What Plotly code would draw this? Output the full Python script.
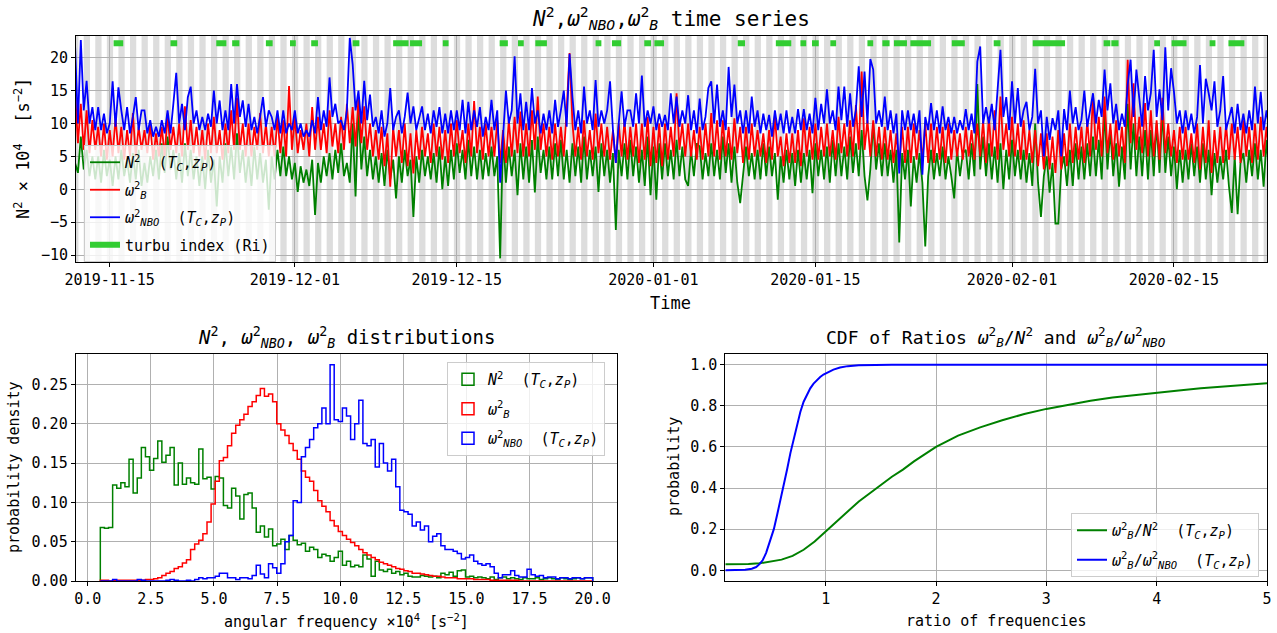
import numpy as np
import pandas as pd
import plotly.graph_objects as go

W, H = 1277, 633
FONT = "DejaVu Sans Mono"

# ---------------- time series (6-hourly samples from 2019-11-12 00:00) ----------------
n2 = [
    4, 2.5, 8, 3, 6, 2, 5, 1.5, 5, 1, 6, 2, 4.5, 0.5, 5, 1.5,
    6, 2, 4.5, 1, 5.5, 1.5, 6, 0.5, 4, 1, 5, 2, 6, 1.5, 7, 2.5,
    8, 3, 6, 1.5, 5.5, 1, 7, 2, 6, 1.5, 5, 0.5, 5, 0, 6, 1,
    4.5, -2.6, 5, 1, 7, 2, 6.5, 1.5, 8.5, 2.5, 6, 1, 5, 0.5, 6.5, 1.5,
    5.5, 1, 4.5, -3.1, 5, 1.5, 6, 2, 6.5, 2, 5, 1.5, 4, -0.4, 3.5, 1,
    3, 0.5, 4.5, -3.9, 4, 1, 5, 2, 5.5, 1.5, 6, 2.5, 7, 2, 4, 1,
    10, -1.1, 12.6, 3, 8, 2, 6, 1.5, 5, 1, 5.5, 0.5, 6, 1.5, 4.5, -1.4,
    5, 1, 6, 2, 4.5, -4.2, 5, 1, 6, 2, 5, 1.5, 5.5, 1, 6.5, 0,
    5, 0.5, 6, 1.5, 7, 2.5, 6, 1.5, 7.5, 2, 6.5, 1.5, 6, 1.5, 5.5, 2,
    6.5, 2, 5, -10.5, 8, 1, 6.5, 2, 6, -0.9, 7, 1.5, 6.5, 1, 7.5, -0.5,
    8, 2.5, 6, 1.5, 6.5, 1.5, 7, 2, 7.5, 1.5, 6, 1, 7, 2, 6.5, 1,
    8, 1.5, 6, 2, 6.5, -0.4, 7, 2, 6, 1, 5.5, -6.2, 6, 2, 7, 1.5,
    7.5, 2, 6.5, 1, 6, 0.5, 8, -0.9, 6.5, -1.6, 7, 1.5, 7, 2, 6, 1.5,
    7.5, 2, 6.5, 1.5, 0.5, 6, 2, 7, 6.5, 1.5, 5.5, 2, 7, 2, 6, 1.5,
    8, 2.5, 7, 1, 6.5, 1, -2.1, 2, 6.5, 2, 5.5, 1.5, 6, 1.5, 7, 2,
    6.5, 2, 5.5, -1.6, 5, 1, 6, 1.5, 5.5, 0.5, 6, 1, 5.5, 1.5, 6, -0.6,
    7, 2, 6, 1.5, 6.5, 1, 7.5, 2, 7, 2, 6.5, 1.5, 8, 2.5, 7, 2,
    9, 2, -1.7, 3, 10, 3, 7, 2, 7, 2, 6, 1, 6, -8.1, 5.5, 1.5,
    6, -2.6, 5, 1, 5.5, 1, -8.7, 2, 6, 1.5, 5.5, 2, 6.5, 1.5, 5, 2,
    -1.4, 6, 2, 5.5, 6, 1.5, 7, 2, 16, 3, 8, 2, 7, 1.5, 6.5, 1,
    7, 0, 6, 1.5, 7.5, 2, 6, 1.5, 6, 1, 5.5, 0.5, 10, 1, -4.2, 2,
    5, -0.5, 4, -5.2, -5.2, 3, 5, 0.5, 6, 0.5, 7, 1.5, 6.5, 1.5, 7, 2,
    8, 2, 7.5, 1.5, 12, 3, 9, 2, 7, 0.4, 6.5, 1.5, 13, 3, 10, 2,
    8, 2, 9, 1.5, 9, 2, 10, 2.5, 12, 2.5, 8, 2, 6.5, 0, 6, 1,
    6, 1.5, 7, 2, 6.5, 1, 7, 1.5, 6, -0.9, 5.5, 1, 5, 1.5, 6, 0.5,
    -3.6, 5, -3.8, 4, 5.5, 1, 6, 2, 7, 1.5, 6, 0.4, 7.5, 2, 6.5, 2,
]

omega_b = [
    15, 7, 13, 6, 12, 5.5, 10.5, 6, 9.5, 5, 10, 4.5, 9, 5, 11, 5.5,
    9.5, 4.5, 9, 5, 11.6, 5, 9.5, 6, 9, 5.5, 10, 4.5, 8.5, 5, 9.5, 5,
    11.5, 6, 9.5, 5.5, 10, 5, 12.6, 6, 10.5, 5.5, 9.5, 5, 9, 4.5, 10, 5.5,
    11, 5.5, 9, 4.5, 10, 5.5, 12, 6, 13.9, 6, 10, 5, 10, 5, 9.5, 6,
    11.6, 5.5, 10, 5, 9.5, 5, 11, 5.5, 10.5, 5, 15.7, 6, 11, 5.5, 9, 6,
    10, 5, 12.5, 6, 11, 6, 10, 5.5, 12, 6.5, 10, 5.5, 11, 6, 13, 7,
    12.5, 6.5, 14, 7, 12.6, 6, 10, 5, 9, 4.5, 9.5, 3.5, 8.5, 0.4, 9.5, 5,
    9, 4, 10, 3.5, 8.5, 2.4, 9, 4.5, 9.5, 5, 8.5, 4, 10, 5, 9.5, 4.5,
    9, 4, 10, 5, 10.5, 5.5, 9, 4, 10, 5, 13.4, 5.5, 9.5, 4.5, 10, 5,
    9.5, 5, 10.5, 4, 9, 4, 10.6, 5, 11, 5.5, 11.8, 5, 10, 5, 12, 6,
    14.1, 6, 10, 5, 9.5, 4.5, 10, 5, 9.5, 5, 12.1, 20.7, 10, 5, 9.5, 4.5,
    10.5, 5, 9, 4.5, 11.5, 5.5, 10, 5, 9.5, 4.5, 9, 4, 10, 5, 10.5, 4.5,
    9.5, 5, 10, 4, 10, 4.5, 11, 3.5, 9.5, 4, 10, 3.5, 10, 4.5, 9.5, 5,
    14.6, 6, 10, 5, 10, 5, 9, 4.5, 9.5, 4.5, 10, 5, 11.6, 5, 10.5, 4.5,
    10.5, 5, 9.5, 4.5, 10.8, 5.5, 9.5, 4, 9.5, 4.5, 10, 5, 9, 5, 8.5, 4,
    9, 4.5, 11.3, 5, 8, 3.5, 8.5, 4, 8.5, 4, 9, 3.5, 10.8, 5, 9.5, 4.5,
    10, 4.5, 9.5, 5, 10, 5, 9, 4.5, 11, 5.5, 10, 5, 10.5, 5, 12.8, 6,
    17.9, 6, 10.5, 5, 10.5, 5, 9.5, 4.5, 9.5, 4.5, 9, 4, 8.5, 3.5, 9.5, 4,
    9.5, 4, 10, 4.5, 9, 4.5, 10, 4, 10, 4, 9.5, 4.5, 9.5, 4, 10, 4.5,
    9, 5, 8.5, 4.5, 9.5, 5, 9, 4.5, 10, 5, 10.5, 4, 11, 5, 12, 4.5,
    14.1, 6, 10, 5, 11, 5, 10, 4.5, 10.5, 4.5, 9, 4, 9, 3.5, 8.5, 3,
    8.5, 3, 8, 2.5, 9, 3, 8.5, 3.5, 10, 4, 9.5, 4.5, 9.5, 4, 10.5, 5,
    14.4, 6, 11, 5, 14.1, 5.5, 10, 4.5, 10.5, 5, 9.5, 4, 19.7, 7, 16.1, 6,
    11, 5.5, 13.1, 5, 12, 5, 10.5, 4.5, 13.9, 5.5, 10, 5, 9, 4, 9.5, 4.5,
    9.5, 4.5, 8.5, 4, 10, 3, 9.5, 4, 10.5, 2.5, 9, 4, 9.5, 4, 10, 4.5,
    10, 4.5, 9.5, 4, 10.5, 5, 9.5, 4, 10, 4.5, 11, 5, 9.5, 5, 10.5, 6,
]

omega_nbo = [
    22, 10, 22.7, 12, 16.5, 10, 12.5, 9, 12.5, 9, 11.5, 8.5, 10, 16.4, 9.5, 15.5,
    12, 9, 12.5, 8.5, 11, 14, 9, 12, 12, 8.5, 10.5, 8, 9.5, 8, 10.5, 8.5,
    12, 8.5, 13, 17.7, 10, 13, 9, 14, 15.6, 10, 12, 9, 11, 9, 11.5, 9.5,
    15, 10, 13.5, 9, 12, 9, 16, 10, 16, 11, 13.5, 9.5, 13, 9, 11, 8.5,
    11, 14, 9.5, 12, 11, 9, 12, 8.5, 12, 8.5, 10, 9, 12, 8.5, 10, 8,
    9, 8, 10.5, 8.5, 14, 9, 12, 9.5, 17, 11, 13, 10, 10.5, 9, 12, 23,
    19, 12, 15, 10, 16.5, 10.5, 14.4, 9.5, 11, 8.5, 12, 8, 10, 15.4, 9, 11,
    12, 8.5, 11, 14.7, 10, 12.6, 9, 11, 12.6, 9, 11.5, 8.5, 12, 9.5, 12.5, 8.5,
    11.5, 8.5, 12, 9, 12, 9, 13.6, 8.5, 13.3, 9, 12, 9.5, 12.5, 8, 11, 9,
    13.6, 9, 12, 1.0, 9, 15, 10, 12, 20.2, 10, 14.6, 9, 13.3, 9, 15.4, 10,
    12, 8.5, 11.5, 9, 12, 8.5, 13.6, 9.5, 12, 15, 9.5, 20.6, 14, 9, 12, 8.5,
    15.6, 10, 12, 9, 16.6, 9.5, 12, 10, 12, 16.4, 9, 4.0, 10, 14.9, 9.5, 12,
    12, 9.5, 14.6, 10, 17.3, 9.5, 12, 10, 12.6, 9, 11.5, 9.5, 11.3, 9, 14.6, 10,
    14.1, 9.5, 12, 10, 14.3, 9, 12, 8.5, 13.8, 9, 11, 15.4, 16.4, 10, 15.9, 9.5,
    12, 9, 18.6, 11, 15.9, 10, 12, 8.5, 12, 8.5, 14.1, 9.5, 12, 8.5, 11.5, 9,
    11.3, 8, 12, 9, 11.5, 8.5, 12, 8.5, 11, 8.5, 12.2, 9, 12.2, 9, 11.5, 8.5,
    13.9, 9, 13, 10, 15.2, 10, 12, 9, 15.6, 10.5, 15.6, 9.5, 14.6, 9.5, 12, 18.7,
    11, 17.9, 10, 19.8, 18.2, 10, 12, 9.5, 14.1, 9, 12, 8.5, 11.5, 2.4, 12, 9,
    12, 9, 11.5, 8.5, 12, 2.2, 11, 9, 13.1, 9, 12, 8.5, 12.6, 9, 11, 8.5,
    11, 8.5, 10.5, 9, 12.2, 9, 11.5, 8.5, 19.4, 21.7, 10, 12.5, 10, 13, 9, 14.6,
    21.2, 11, 14, 9, 16.4, 10, 15.4, 9.5, 12, 13.3, 9, 11, 18.3, 10, 12, 5,
    11, 7.5, 10.8, 9, 12, 5, 12.2, 9, 15, 10, 12.5, 9, 10.5, 15, 9.5, 12,
    14.6, 10, 13.6, 11, 18.2, 12, 16.1, 10, 13, 9, 11.5, 9.5, 15.9, 19.7, 11, 18.2,
    14, 9.5, 17.2, 12, 14.6, 21.2, 11, 15.2, 10.5, 21.6, 12, 18.4, 14.8, 10, 12, 8.5,
    12, 9, 11.5, 8.5, 11, 18.9, 10, 16.8, 14.6, 12, 16.4, 9.5, 12, 17.2, 9, 11,
    12.5, 8.5, 13, 9, 11.5, 8.5, 12, 9, 15.6, 10, 14.8, 9, 12, 9, 11, 9.5,
]

t_start = "2019-11-12 00:00"
t_step = "6h"

turbu_start = [
    "2019-11-15 08:00", "2019-11-20 06:00", "2019-11-24 05:00", "2019-11-25 14:00",
    "2019-11-28 12:00", "2019-11-30 14:00", "2019-12-02 10:00", "2019-12-06 00:00",
    "2019-12-09 12:00", "2019-12-10 23:00", "2019-12-13 19:00", "2019-12-18 17:00",
    "2019-12-20 07:00", "2019-12-21 19:00", "2019-12-27 00:00", "2019-12-28 10:00",
    "2019-12-31 05:00", "2020-01-01 02:00", "2020-01-08 07:00", "2020-01-11 14:00",
    "2020-01-13 17:00", "2020-01-14 17:00", "2020-01-16 07:00", "2020-01-19 12:00",
    "2020-01-20 19:00", "2020-01-21 19:00", "2020-01-23 05:00", "2020-01-26 19:00",
    "2020-01-30 10:00", "2020-02-02 19:00", "2020-02-08 22:00", "2020-02-09 14:00",
    "2020-02-13 07:00", "2020-02-14 19:00", "2020-02-18 02:00", "2020-02-19 17:00",
]
turbu_end = [
    "2019-11-16 04:00", "2019-11-20 20:00", "2019-11-25 02:00", "2019-11-26 05:00",
    "2019-11-29 02:00", "2019-12-01 02:00", "2019-12-03 00:00", "2019-12-06 14:00",
    "2019-12-10 20:00", "2019-12-12 00:00", "2019-12-14 07:00", "2019-12-19 10:00",
    "2019-12-20 19:00", "2019-12-22 19:00", "2019-12-27 12:00", "2019-12-29 05:00",
    "2019-12-31 19:00", "2020-01-01 22:00", "2020-01-08 22:00", "2020-01-12 22:00",
    "2020-01-14 05:00", "2020-01-15 07:00", "2020-01-16 19:00", "2020-01-20 00:00",
    "2020-01-21 10:00", "2020-01-22 22:00", "2020-01-25 00:00", "2020-01-27 22:00",
    "2020-01-31 00:00", "2020-02-05 14:00", "2020-02-09 12:00", "2020-02-10 05:00",
    "2020-02-13 19:00", "2020-02-16 02:00", "2020-02-18 14:00", "2020-02-21 02:00",
]
turbu_level = 22.2

night_start_hour = 18
night_hours = 13

date_ticks = ["2019-11-15", "2019-12-01", "2019-12-15", "2020-01-01",
              "2020-01-15", "2020-02-01", "2020-02-15"]

# ---------------- histograms (density, 120 bins on [0.5, 20]) ----------------
hist_lo, hist_hi, hist_nbins = 0.5, 20.0, 120
hist_n2 = [
    0.068, 0.067, 0.068, 0.122, 0.118, 0.125, 0.120, 0.155, 0.112, 0.131,
    0.170, 0.158, 0.141, 0.156, 0.178, 0.151, 0.160, 0.170, 0.122, 0.150,
    0.123, 0.131, 0.125, 0.123, 0.168, 0.130, 0.132, 0.117, 0.133, 0.131,
    0.096, 0.093, 0.118, 0.108, 0.079, 0.110, 0.112, 0.093, 0.062, 0.070,
    0.056, 0.066, 0.045, 0.047, 0.053, 0.040, 0.058, 0.052, 0.046, 0.048,
    0.038, 0.043, 0.040, 0.030, 0.034, 0.032, 0.025, 0.030, 0.038, 0.020,
    0.025, 0.018, 0.020, 0.018, 0.033, 0.028, 0.006, 0.025, 0.014, 0.012,
    0.015, 0.010, 0.012, 0.008, 0.010, 0.006, 0.005, 0.005, 0.007, 0.006,
    0.005, 0.006, 0.004, 0.010, 0.008, 0.011, 0.006, 0.013, 0.014, 0.005,
    0.006, 0.004, 0.005, 0.004, 0.003, 0.005, 0.002, 0.004, 0.005, 0.003,
    0.004, 0.003, 0.002, 0.004, 0.003, 0.003, 0.004, 0.002, 0.003, 0.004,
    0.003, 0.002, 0.004, 0.003, 0.002, 0.003, 0.004, 0.003, 0.004, 0.004,
]
hist_wb = [
    0.001, 0.001, 0.000, 0.001, 0.001, 0.001, 0.001, 0.001, 0.001, 0.001,
    0.001, 0.002, 0.002, 0.003, 0.004, 0.007, 0.010, 0.012, 0.016, 0.018,
    0.023, 0.027, 0.040, 0.047, 0.052, 0.060, 0.075, 0.098, 0.127, 0.153,
    0.157, 0.172, 0.188, 0.198, 0.205, 0.212, 0.222, 0.228, 0.236, 0.245,
    0.235, 0.238, 0.228, 0.200, 0.192, 0.185, 0.175, 0.166, 0.155, 0.140,
    0.132, 0.127, 0.115, 0.102, 0.095, 0.088, 0.077, 0.070, 0.063, 0.058,
    0.053, 0.049, 0.045, 0.040, 0.036, 0.033, 0.030, 0.027, 0.024, 0.022,
    0.020, 0.018, 0.016, 0.015, 0.013, 0.012, 0.010, 0.010, 0.009, 0.008,
    0.007, 0.006, 0.006, 0.005, 0.004, 0.004, 0.004, 0.003, 0.003, 0.003,
    0.003, 0.002, 0.002, 0.002, 0.002, 0.001, 0.001, 0.001, 0.001, 0.001,
    0.001, 0.001, 0.000, 0.000, 0.000, 0.000, 0.000, 0.000, 0.000, 0.000,
    0.000, 0.000, 0.000, 0.000, 0.000, 0.000, 0.000, 0.000, 0.000, 0.000,
]
hist_nbo = [
    0.000, 0.000, 0.000, 0.002, 0.000, 0.000, 0.000, 0.000, 0.000, 0.002,
    0.001, 0.000, 0.000, 0.000, 0.000, 0.000, 0.001, 0.002, 0.001, 0.000,
    0.000, 0.001, 0.000, 0.002, 0.004, 0.003, 0.004, 0.004, 0.006, 0.010,
    0.010, 0.004, 0.004, 0.002, 0.004, 0.004, 0.003, 0.007, 0.020, 0.009,
    0.004, 0.022, 0.017, 0.010, 0.022, 0.050, 0.058, 0.102, 0.100, 0.158,
    0.170, 0.180, 0.195, 0.200, 0.220, 0.200, 0.275, 0.205, 0.203, 0.220,
    0.210, 0.180, 0.200, 0.230, 0.175, 0.172, 0.180, 0.145, 0.175, 0.150,
    0.140, 0.155, 0.120, 0.090, 0.088, 0.085, 0.070, 0.075, 0.065, 0.070,
    0.050, 0.057, 0.060, 0.045, 0.040, 0.040, 0.038, 0.035, 0.028, 0.030,
    0.033, 0.025, 0.022, 0.020, 0.022, 0.018, 0.010, 0.004, 0.008, 0.008,
    0.013, 0.007, 0.005, 0.005, 0.015, 0.008, 0.006, 0.007, 0.004, 0.005,
    0.005, 0.003, 0.004, 0.004, 0.003, 0.004, 0.004, 0.003, 0.004, 0.004,
]

# ---------------- CDFs of ratios ----------------
cdf_n2_x = [0.09, 0.2, 0.3, 0.4, 0.5, 0.6, 0.7, 0.8, 0.9, 1.0, 1.1, 1.2, 1.3, 1.4, 1.5,
            1.6, 1.7, 1.8, 1.9, 2.0, 2.2, 2.4, 2.6, 2.8, 3.0, 3.2, 3.4, 3.6, 3.8, 4.0,
            4.2, 4.4, 4.6, 4.8, 5.0]
cdf_n2_y = [0.030, 0.030, 0.031, 0.034, 0.042, 0.052, 0.070, 0.100, 0.140, 0.190, 0.240,
            0.290, 0.335, 0.375, 0.415, 0.455, 0.490, 0.530, 0.565, 0.600, 0.655, 0.695,
            0.730, 0.760, 0.785, 0.805, 0.825, 0.840, 0.852, 0.865, 0.875, 0.885, 0.893,
            0.902, 0.910]
cdf_nbo_x = [0.09, 0.2, 0.27, 0.33, 0.37, 0.40, 0.43, 0.46, 0.50, 0.53, 0.56, 0.59, 0.62,
             0.65, 0.68, 0.71, 0.74, 0.77, 0.80, 0.83, 0.86, 0.89, 0.92, 0.95, 0.98, 1.02,
             1.07, 1.13, 1.2, 1.3, 1.45, 1.6, 2.0, 5.0]
cdf_nbo_y = [0.0, 0.001, 0.003, 0.008, 0.016, 0.03, 0.05, 0.085, 0.15, 0.20, 0.27, 0.34,
             0.41, 0.49, 0.57, 0.64, 0.71, 0.77, 0.82, 0.857, 0.885, 0.908, 0.926, 0.940,
             0.952, 0.964, 0.976, 0.986, 0.993, 0.997, 0.999, 1.0, 1.0, 1.0]

# ---------------- figure ----------------
GREEN, RED, BLUE, LIME = "#008000", "#ff0000", "#0000ff", "#32cd32"
t = pd.date_range(t_start, periods=len(n2), freq=t_step)

fig = go.Figure()

lab_n2 = "<i>N</i><sup>2</sup>  (<i>T</i><sub><i>C</i></sub>,<i>z</i><sub><i>P</i></sub>)"
lab_wb = "<i>ω</i><sup>2</sup><sub><i>B</i></sub>"
lab_nbo = "<i>ω</i><sup>2</sup><sub><i>NBO</i></sub>  (<i>T</i><sub><i>C</i></sub>,<i>z</i><sub><i>P</i></sub>)"

LW = 1.8
fig.add_trace(go.Scatter(x=t, y=n2, mode="lines", line=dict(color=GREEN, width=LW),
                         name=lab_n2, xaxis="x", yaxis="y", legend="legend", legendgroup="a"))
fig.add_trace(go.Scatter(x=t, y=omega_b, mode="lines", line=dict(color=RED, width=LW),
                         name=lab_wb, xaxis="x", yaxis="y", legend="legend", legendgroup="b"))
fig.add_trace(go.Scatter(x=t, y=omega_nbo, mode="lines", line=dict(color=BLUE, width=LW),
                         name=lab_nbo, xaxis="x", yaxis="y", legend="legend", legendgroup="c"))
tx, ty = [], []
for s, e in zip(turbu_start, turbu_end):
    tx += [pd.Timestamp(s), pd.Timestamp(e), None]
    ty += [turbu_level, turbu_level, None]
fig.add_trace(go.Scatter(x=tx, y=ty, mode="lines", line=dict(color=LIME, width=6),
                         name="turbu index (Ri)", xaxis="x", yaxis="y", legend="legend",
                         legendgroup="d"))

# histograms as step outlines; legend entries as outlined patches
edges = np.linspace(hist_lo, hist_hi, hist_nbins + 1)
for k, (vals, col, lab) in enumerate([(hist_n2, GREEN, lab_n2), (hist_wb, RED, lab_wb),
                                      (hist_nbo, BLUE, lab_nbo)]):
    hx = [edges[0]] + list(edges[:-1]) + [edges[-1]]
    hy = [0] + list(vals) + [0]
    fig.add_trace(go.Scatter(x=hx, y=hy, mode="lines", line=dict(color=col, width=1.5, shape="hv"),
                             showlegend=False, xaxis="x2", yaxis="y2", legendgroup="h%d" % k))
    fig.add_trace(go.Bar(x=[None], y=[None], name=lab, xaxis="x2", yaxis="y2",
                         marker=dict(color="rgba(255,255,255,0)", line=dict(color=col, width=1.5)),
                         legend="legend2", legendgroup="h%d" % k, showlegend=True))

# CDFs
fig.add_trace(go.Scatter(x=cdf_n2_x, y=cdf_n2_y, mode="lines", line=dict(color=GREEN, width=2),
                         name="<i>ω</i><sup>2</sup><sub><i>B</i></sub>/<i>N</i><sup>2</sup>  (<i>T</i><sub><i>C</i></sub>,<i>z</i><sub><i>P</i></sub>)",
                         xaxis="x3", yaxis="y3", legend="legend3", legendgroup="c1"))
fig.add_trace(go.Scatter(x=cdf_nbo_x, y=cdf_nbo_y, mode="lines", line=dict(color=BLUE, width=2),
                         name="<i>ω</i><sup>2</sup><sub><i>B</i></sub>/<i>ω</i><sup>2</sup><sub><i>NBO</i></sub>  (<i>T</i><sub><i>C</i></sub>,<i>z</i><sub><i>P</i></sub>)",
                         xaxis="x3", yaxis="y3", legend="legend3", legendgroup="c2"))

# night shading
shapes = []
for day in pd.date_range("2019-11-11", "2020-02-23", freq="D"):
    s = day + pd.Timedelta(hours=night_start_hour)
    e = s + pd.Timedelta(hours=night_hours)
    shapes.append(dict(type="rect", xref="x", yref="y domain", x0=s, x1=e, y0=0, y1=1,
                       fillcolor="#dddddd", line=dict(width=0), layer="below"))

def px(v):
    return v / W

def py(v):
    return 1 - v / H

axis_common = dict(showline=True, linecolor="black", linewidth=1, mirror=True,
                   ticks="outside", ticklen=4, tickcolor="black", tickwidth=1,
                   showgrid=True, gridcolor="#b0b0b0", gridwidth=1, zeroline=False,
                   automargin=False,
                   tickfont=dict(family=FONT, size=15, color="black"))

fig.update_layout(
    template="none",
    width=W, height=H, autosize=False,
    margin=dict(l=0, r=0, t=0, b=0, pad=0),
    paper_bgcolor="white", plot_bgcolor="white",
    font=dict(family=FONT, size=15, color="black"),
    shapes=shapes,
    xaxis=dict(domain=[px(76), px(1267)], anchor="y", type="date",
               range=["2019-11-12 02:00", "2020-02-23 01:00"],
               tickvals=date_ticks, ticktext=date_ticks, **axis_common),
    yaxis=dict(domain=[py(262.3), py(36)], anchor="x", range=[-11.1, 23.3],
               tickvals=[-10, -5, 0, 5, 10, 15, 20], **axis_common),
    xaxis2=dict(domain=[px(75.7), px(617.3)], anchor="y2", range=[-0.475, 20.975],
                tickvals=[0, 2.5, 5, 7.5, 10, 12.5, 15, 17.5, 20],
                ticktext=["0.0", "2.5", "5.0", "7.5", "10.0", "12.5", "15.0", "17.5", "20.0"],
                **axis_common),
    yaxis2=dict(domain=[py(581), py(354)], anchor="x2", range=[0, 0.2888],
                tickvals=[0, 0.05, 0.1, 0.15, 0.2, 0.25],
                ticktext=["0.00", "0.05", "0.10", "0.15", "0.20", "0.25"], **axis_common),
    xaxis3=dict(domain=[px(725.3), px(1267)], anchor="y3", range=[0.09, 5.0],
                tickvals=[1, 2, 3, 4, 5], **axis_common),
    yaxis3=dict(domain=[py(581), py(354)], anchor="x3", range=[-0.052, 1.052],
                tickvals=[0, 0.2, 0.4, 0.6, 0.8, 1.0],
                ticktext=["0.0", "0.2", "0.4", "0.6", "0.8", "1.0"], **axis_common),
    legend=dict(x=px(84), y=py(145), xanchor="left", yanchor="top",
                bgcolor="rgba(255,255,255,0.8)", bordercolor="#cccccc", borderwidth=1,
                font=dict(family=FONT, size=15), tracegroupgap=5),
    legend2=dict(x=px(447), y=py(362), xanchor="left", yanchor="top",
                 bgcolor="rgba(255,255,255,0.8)", bordercolor="#cccccc", borderwidth=1,
                 font=dict(family=FONT, size=15), tracegroupgap=7),
    legend3=dict(x=px(1071), y=py(513), xanchor="left", yanchor="top",
                 bgcolor="rgba(255,255,255,0.8)", bordercolor="#cccccc", borderwidth=1,
                 font=dict(family=FONT, size=15), tracegroupgap=7),
)

ann = []
def text(x, y, s, size, angle=0):
    ann.append(dict(x=px(x), y=py(y), xref="paper", yref="paper", text=s, showarrow=False,
                    xanchor="center", yanchor="middle", textangle=angle,
                    font=dict(family=FONT, size=size, color="black")))

text(671, 18, "<i>N</i><sup>2</sup>,<i>ω</i><sup>2</sup><sub><i>NBO</i></sub>,<i>ω</i><sup>2</sup><sub><i>B</i></sub> time series", 21)
text(671, 303, "Time", 17)
text(22, 149, "N<sup>2</sup> × 10<sup>4</sup>  [s<sup>−2</sup>]", 17, -90)
text(346, 337, "<i>N</i><sup>2</sup>, <i>ω</i><sup>2</sup><sub><i>NBO</i></sub>, <i>ω</i><sup>2</sup><sub><i>B</i></sub> distributions", 19)
text(346, 621, "angular frequency ×10<sup>4</sup> [s<sup>−2</sup>]", 15)
text(14, 467, "probability density", 15, -90)
text(996, 337, "CDF of Ratios <i>ω</i><sup>2</sup><sub><i>B</i></sub>/<i>N</i><sup>2</sup> and <i>ω</i><sup>2</sup><sub><i>B</i></sub>/<i>ω</i><sup>2</sup><sub><i>NBO</i></sub>", 18)
text(996, 621, "ratio of frequencies", 15)
text(674, 467, "probability", 15, -90)
fig.update_layout(annotations=ann)

fig.write_html("out.html")
